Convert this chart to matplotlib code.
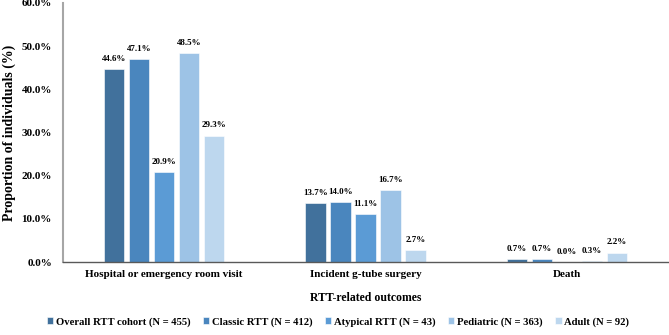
import numpy as np
import matplotlib
matplotlib.use('Agg')
import matplotlib.pyplot as plt
import matplotlib.ticker as mticker

outcomes = ['Hospital or emergency room visit', 'Incident g-tube surgery', 'Death']
groups = ['Overall RTT cohort (N = 455)', 'Classic RTT (N = 412)',
          'Atypical RTT (N = 43)', 'Pediatric (N = 363)', 'Adult (N = 92)']
overall = [44.6, 13.7, 0.7]
classic = [47.1, 14.0, 0.7]
atypical = [20.9, 11.1, 0.0]
pediatric = [48.5, 16.7, 0.3]
adult = [29.3, 2.7, 2.2]
colors = ['#41719C', '#4A86BE', '#5B9BD5', '#9DC3E6', '#BDD7EE']

plt.rcParams['font.family'] = ['Liberation Serif', 'DejaVu Serif']
plt.rcParams['font.weight'] = 'bold'

fig = plt.figure(figsize=(6.69, 3.35), dpi=100)
ax = fig.add_axes([63 / 669, 73 / 335, 605 / 669, 259 / 335])

x = np.arange(len(outcomes))
width = 0.1
step = 0.124
series = [overall, classic, atypical, pediatric, adult]
for i, (vals, name, c) in enumerate(zip(series, groups, colors)):
    pos = x + (i - 2) * step
    bars = ax.bar(pos, vals, width, color=c, label=name,
                  edgecolor='white', linewidth=0.4)
    for b, v in zip(bars, vals):
        ax.text(b.get_x() + b.get_width() / 2, v + 1.4, f'{v:.1f}%',
                ha='center', va='bottom', fontsize=6.5, fontweight='bold')

ax.set_xlim(-0.5, 2.5)
ax.set_ylim(0, 60)
ax.yaxis.set_major_locator(mticker.MultipleLocator(10))
ax.yaxis.set_major_formatter(mticker.FuncFormatter(lambda v, p: f'{v:.1f}%'))
ax.set_xticks(x)
ax.set_xticklabels(outcomes, fontsize=8, fontweight='bold')
ax.tick_params(axis='y', labelsize=8, length=0, pad=8)
ax.tick_params(axis='x', length=0, pad=6)
for lbl in ax.get_yticklabels():
    lbl.set_fontweight('bold')

ax.spines['top'].set_visible(False)
ax.spines['right'].set_visible(False)
ax.spines['left'].set_color('#A6A6A6')
ax.spines['left'].set_linewidth(1.5)
ax.spines['bottom'].set_color('#595959')
ax.spines['bottom'].set_linewidth(1.0)

ax.set_xlabel('RTT-related outcomes', fontsize=8.5, fontweight='bold', labelpad=9)
ax.set_ylabel('Proportion of individuals (%)', fontsize=10, fontweight='bold',
              labelpad=4)

fig.legend(loc='center', bbox_to_anchor=(0.505, 13 / 335), ncol=5, frameon=False,
           fontsize=7.7, handlelength=0.6, handleheight=0.6, handletextpad=0.2,
           columnspacing=1.2)

fig.savefig('out.png', dpi=100)
